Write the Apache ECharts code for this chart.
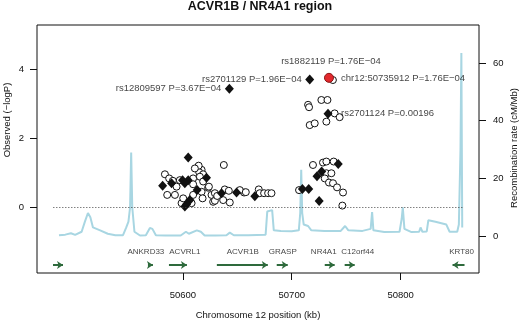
<!DOCTYPE html>
<html>
<head>
<meta charset="utf-8">
<script src="https://cdn.jsdelivr.net/npm/echarts@6.0.0/dist/echarts.min.js"></script>
<style>html,body{margin:0;padding:0;background:#fff}#chart{width:520px;height:321px}</style>
</head>
<body>
<div id="chart"></div>
<script>
var FONT = '"Liberation Sans", Arial, Helvetica, sans-serif';

// recombination rate (cM/Mb) along the region, positions in kb
var recombPos = [50486.2, 50492, 50497.2, 50501, 50507, 50510, 50512.8, 50515, 50517.4, 50524, 50531, 50538,
    50545, 50548, 50550, 50551.5, 50552.5, 50553.5, 50555.5, 50560.6, 50566, 50569.7, 50572, 50575.2, 50584,
    50598, 50602.8, 50605.5, 50612.8, 50616.5, 50620, 50630, 50640, 50643.1, 50646.8, 50660, 50676, 50677.5,
    50682, 50683.5, 50690, 50700, 50706.5, 50707.8, 50708.7, 50709.6, 50711, 50715, 50718, 50730, 50745,
    50749, 50752, 50765, 50772.5, 50773.8, 50775, 50785, 50799, 50801, 50802, 50803.5, 50810, 50817, 50818.3,
    50820, 50824, 50825.5, 50832, 50842, 50845, 50852, 50853.5, 50855, 50855.8, 50856.6];
var recombRate = [0.3, 0.5, 1.0, 0.4, 1.5, 5, 8, 6.5, 3, 2, 0.8, 0.3,
    0.3, 3, 5, 10, 29, 10, 1.5, 0.2, 0.3, 2.8, 2.5, 0.3, 0.2,
    0.2, 1.5, 0.8, 2, 1.5, 0.2, 0.2, 0.3, 1.2, 0.3, 0.3, 0.5, 8.5,
    9, 2, 1.8, 1.7, 2, 8, 23, 8, 4, 3.5, 2, 1.8, 1.8,
    3.5, 2, 1.8, 2.5, 8.3, 2, 1.4, 1.5, 6, 10, 2.5, 1.4, 1.5, 3,
    1.5, 1.6, 5.5, 5, 4, 1.5, 1.5, 4, 30, 63.5, 3];

// imputed SNPs (open circles): [kb, -logP]
var openSnps = [
    [50613.1, 1.13], [50617.2, 1.08], [50615.0, 1.01], [50618.6, 0.95], [50583.5, 0.95], [50587.4, 0.83],
    [50615.6, 0.88], [50590.8, 0.76], [50597.2, 0.78], [50609.4, 0.83], [50609.4, 0.66], [50618.6, 0.74],
    [50623.2, 0.56], [50617.2, 0.44], [50585.6, 0.35], [50592.7, 0.35], [50594.2, 0.59], [50609.4, 0.35],
    [50618.1, 0.25], [50598.8, 0.11], [50600.3, 0.25], [50608.0, 0.11], [50627.8, 0.15], [50626.3, 0.35],
    [50614.5, 1.2], [50611, 1.12],
    [50637.6, 1.22], [50623.9, 0.59], [50629.4, 0.40], [50638.5, 0.51], [50642.2, 0.47], [50656.2, 0.42],
    [50652.3, 0.49], [50637.0, 0.20], [50643.1, 0.13], [50629.4, 0.18], [50631.5, 0.32], [50669.7, 0.51],
    [50670.6, 0.40], [50674.6, 0.40], [50678.3, 0.40], [50681.4, 0.40], [50657.8, 0.43],
    [50715.0, 2.97], [50715.9, 2.90], [50727.2, 3.11], [50732.8, 3.11], [50739.4, 2.72], [50744.0, 2.61],
    [50716.5, 2.38], [50721.1, 2.43], [50731.8, 2.48], [50737.8, 3.69],
    [50719.5, 1.22], [50728.7, 1.29], [50731.8, 1.32], [50738.5, 1.32], [50731.8, 0.98], [50736.4, 0.98],
    [50730.3, 0.83], [50734.2, 0.71], [50737.9, 0.69], [50741.6, 0.57], [50747.1, 0.42], [50706.7, 0.49],
    [50746.5, 0.04]
];

// genotyped SNPs (filled diamonds): [kb, -logP]
var typedSnps = [
    [50604.9, 1.44], [50621.7, 0.85], [50581.4, 0.62], [50589.6, 0.69], [50599.7, 0.78], [50604.9, 0.78],
    [50601.8, 0.69], [50613.1, 0.49], [50606.4, 0.20], [50603.4, 0.08], [50601.8, 0.01], [50635.5, 0.40],
    [50649.3, 0.42], [50666.1, 0.31], [50642.7, 3.435], [50716.5, 3.708], [50733.3, 2.708], [50742.7, 1.25],
    [50723.2, 0.89], [50727.5, 1.03], [50709.8, 0.52], [50715.6, 0.52], [50725.2, 0.17]
];

// index SNP (red)
var indexSnp = [[50734.2, 3.754]];

// annotated SNPs
var annotText = ['rs12809597 P=3.67E\u221204', 'rs2701129 P=1.96E\u221204', 'rs1882119 P=1.76E\u221204',
    'chr12:50735912 P=1.76E\u221204', 'rs2701124 P=0.00196'];
var annotPos = [50642.7, 50716.5, 50734.2, 50734.2, 50733.3];
var annotLogP = [3.435, 3.708, 3.754, 3.754, 2.708];

// genes
var geneNames = ['', 'ANKRD33', 'ACVRL1', 'ACVR1B', 'GRASP', 'NR4A1', 'C12orf44', 'KRT80'];
var geneStart = [50480.7, 50567.9, 50587.2, 50631.2, 50686.2, 50730.3, 50748.6, 50847.7];
var geneEnd = [50489.9, 50572.5, 50603.7, 50678.0, 50696.3, 50739.4, 50757.8, 50858.7];
var geneStrand = ['+', '+', '+', '+', '+', '+', '+', '-'];
var geneLabelAt = [null, 50566, 50601.8, 50655, 50691.7, 50729.4, 50760.6, 50856];

var xTicks = [50600, 50700, 50800];
var leftTicks = [0, 2, 4];
var rightTicks = [0, 20, 40, 60];

var chart = echarts.init(document.getElementById('chart'));

var GENE_Y = -1.69, GENE_LABEL_Y = -1.31;
var annotPlace = [
    {position: 'left', distance: 4},
    {position: 'left', distance: 4},
    {position: 'top', distance: 7, offset: [2, 0]},
    {position: 'right', distance: 8, offset: [0, 1]},
    {position: 'right', distance: 9}
];

var recombData = recombPos.map(function (p, i) { return [p, recombRate[i]]; });
var geneLines = geneStart.map(function (s, i) {
    var a = [s, GENE_Y], b = [geneEnd[i], GENE_Y];
    return {coords: geneStrand[i] === '+' ? [a, b] : [b, a]};
});
var geneLabels = [];
geneNames.forEach(function (n, i) {
    if (n) geneLabels.push({value: [geneLabelAt[i], GENE_LABEL_Y], name: n});
});
var annotData = annotText.map(function (t, i) {
    var pl = annotPlace[i];
    return {
        value: [annotPos[i], annotLogP[i]], name: t,
        label: {show: true, position: pl.position, distance: pl.distance, offset: pl.offset || [0, 0]}
    };
});

var textStyle = {fontFamily: FONT, fontSize: 9.5, color: '#111'};

var option = {
    animation: false,
    title: {
        text: 'ACVR1B / NR4A1 region', left: 'center', top: 0, padding: [0, 0, 0, 0],
        textStyle: {fontFamily: FONT, fontSize: 12.5, fontWeight: 'bold', color: '#111'}
    },
    grid: {left: 37, right: 41, top: 25, bottom: 48, show: true, borderColor: '#111', borderWidth: 1, backgroundColor: 'transparent'},
    xAxis: {
        type: 'value', min: 50466, max: 50872,
        axisLine: {show: false, onZero: false}, splitLine: {show: false},
        axisTick: {show: true, length: 7, customValues: xTicks, lineStyle: {color: '#111'}},
        axisLabel: Object.assign({customValues: xTicks, margin: 17, formatter: function (v) { return String(v); }}, textStyle)
    },
    yAxis: [{
        type: 'value', min: -1.92, max: 5.29,
        axisLine: {show: false, onZero: false}, splitLine: {show: false},
        axisTick: {show: true, length: 7, customValues: leftTicks, lineStyle: {color: '#111'}},
        axisLabel: Object.assign({customValues: leftTicks, margin: 13}, textStyle)
    }, {
        type: 'value', position: 'right', min: -12.8, max: 73.2,
        axisLine: {show: false, onZero: false}, splitLine: {show: false},
        axisTick: {show: true, length: 7, customValues: rightTicks, lineStyle: {color: '#111'}},
        axisLabel: Object.assign({customValues: rightTicks, margin: 14}, textStyle)
    }],
    graphic: [
        {type: 'text', x: 7, y: 120, rotation: Math.PI / 2,
            style: {text: 'Observed (\u2212logP)', align: 'center', verticalAlign: 'middle', font: '9.5px ' + FONT, fill: '#111'}},
        {type: 'text', x: 514, y: 148, rotation: Math.PI / 2,
            style: {text: 'Recombination rate (cM/Mb)', align: 'center', verticalAlign: 'middle', font: '9.5px ' + FONT, fill: '#111'}},
        {type: 'text', x: 258, y: 315,
            style: {text: 'Chromosome 12 position (kb)', align: 'center', verticalAlign: 'middle', font: '9.5px ' + FONT, fill: '#111'}}
    ],
    series: [
        {
            type: 'line', yAxisIndex: 1, data: recombData, showSymbol: false, z: 1,
            lineStyle: {color: '#a8d6e2', width: 2}
        },
        {
            type: 'lines', coordinateSystem: 'cartesian2d', data: geneLines, z: 2,
            symbol: ['none', 'arrow'], symbolSize: 6,
            lineStyle: {color: '#2e6a3c', width: 2, opacity: 1}
        },
        {
            type: 'scatter', data: geneLabels, symbolSize: 1, itemStyle: {color: 'transparent'}, z: 2,
            label: Object.assign({show: true, position: 'inside', formatter: '{b}'}, textStyle, {fontSize: 8})
        },
        {
            type: 'scatter', data: openSnps, symbol: 'circle', symbolSize: 7, z: 3,
            itemStyle: {color: '#fff', borderColor: '#111', borderWidth: 1, opacity: 1},
            markLine: {
                silent: true, symbol: 'none', label: {show: false},
                lineStyle: {type: [1, 2], color: '#444', width: 1},
                data: [[{coord: [50481, 0]}, {coord: [50858, 0]}]]
            }
        },
        {
            type: 'scatter', data: typedSnps, symbol: 'diamond', symbolSize: [9, 10], z: 4,
            itemStyle: {color: '#111', opacity: 1}
        },
        {
            type: 'scatter', data: indexSnp, symbol: 'circle', symbolSize: 9, z: 5,
            itemStyle: {color: '#e2282d', borderColor: '#8a1414', borderWidth: 1, opacity: 1}
        },
        {
            type: 'scatter', data: annotData, symbolSize: 8, itemStyle: {color: 'transparent'}, z: 6,
            label: Object.assign({formatter: '{b}'}, textStyle)
        }
    ]
};

chart.setOption(option);
</script>
</body>
</html>
